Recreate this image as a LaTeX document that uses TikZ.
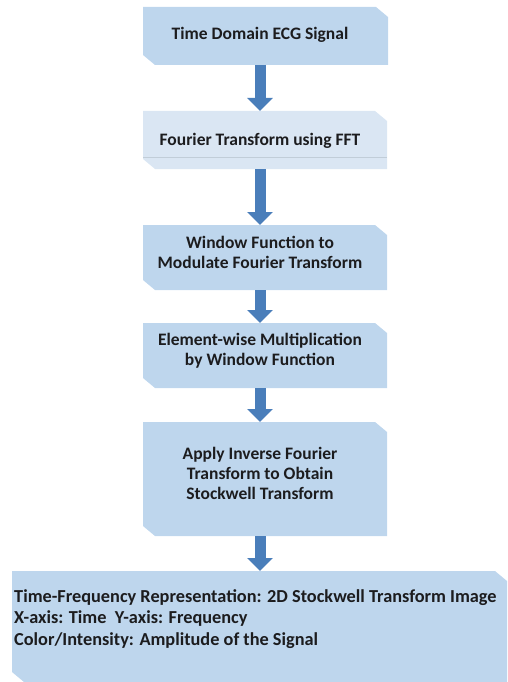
\documentclass[tikz,border=0pt]{standalone}
\usepackage{fontspec}
\setmainfont{Carlito}
\usetikzlibrary{arrows.meta,backgrounds}
\definecolor{boxblue}{RGB}{190,214,237}
\definecolor{boxlight}{RGB}{218,230,243}
\definecolor{arrowblue}{RGB}{74,126,186}
\definecolor{txt}{RGB}{28,28,30}
\newcommand{\snipfill}[2]{%
  \fill[#2] (#1.north west) -- ([xshift=-12pt]#1.north east) -- ([yshift=-10pt]#1.north east)
    -- (#1.south east) -- ([xshift=12pt]#1.south west) -- ([yshift=10pt]#1.south west) -- cycle;}
\tikzset{
  boxframe/.style={draw=none, fill=none, inner sep=0pt, outer sep=0pt, rectangle},
  label text/.style={font=\bfseries\fontsize{17.5}{20}\selectfont, text=txt, align=center, inner sep=0pt},
  flowarrow/.style={draw=arrowblue, line width=11pt, -{Triangle[width=25pt,length=13pt]}},
}
\begin{document}
\begin{tikzpicture}[x=1pt,y=-1pt]
\useasboundingbox (0,0) rectangle (508,682);
% box frames
\node[boxframe, minimum width=245pt, minimum height=58pt] (b1) at (265.5,36) {};
\node[boxframe, minimum width=244pt, minimum height=58pt] (b2) at (265,140) {};
\node[boxframe, minimum width=244pt, minimum height=65pt] (b3) at (265,257.5) {};
\node[boxframe, minimum width=244pt, minimum height=65pt] (b4) at (265,355.5) {};
\node[boxframe, minimum width=244pt, minimum height=114pt] (b5) at (265,479) {};
\node[boxframe, minimum width=495pt, minimum height=111pt] (b6) at (259.5,626.5) {};
% fills
\snipfill{b1}{boxblue}
\snipfill{b2}{boxlight}
\draw[boxblue!80!black!60!white, line width=0.6pt] ([yshift=12pt]b2.south west) -- ([yshift=12pt]b2.south east);
\snipfill{b3}{boxblue}
\snipfill{b4}{boxblue}
\snipfill{b5}{boxblue}
\snipfill{b6}{boxblue}
% texts
\node[label text] (t1) at (260,35) {Time Domain ECG Signal};
\node[label text] (t2) at (260,141) {Fourier Transform using FFT};
\node[label text] (t3) at (260,252) {Window Function to\\Modulate Fourier Transform};
\node[label text] (t4) at (260,351) {Element-wise Multiplication\\by Window Function};
\node[label text] (t5) at (260,473) {Apply Inverse Fourier\\Transform to Obtain\\Stockwell Transform};
\node[label text, align=left, anchor=west, font=\bfseries\fontsize{18.3}{21.5}\selectfont] (t6) at (14,619)
  {Time-Frequency Representation: 2D Stockwell Transform Image\\X-axis: Time\ \ Y-axis: Frequency\\Color/Intensity: Amplitude of the Signal};
% arrows
\draw[flowarrow] (b1.south -| t1.center) -- (b2.north -| t1.center);
\draw[flowarrow] (b2.south -| t1.center) -- (b3.north -| t1.center);
\draw[flowarrow] (b3.south -| t1.center) -- (b4.north -| t1.center);
\draw[flowarrow] (b4.south -| t1.center) -- (b5.north -| t1.center);
\draw[flowarrow] (b5.south -| t1.center) -- (b6.north -| t1.center);
\end{tikzpicture}
\end{document}
